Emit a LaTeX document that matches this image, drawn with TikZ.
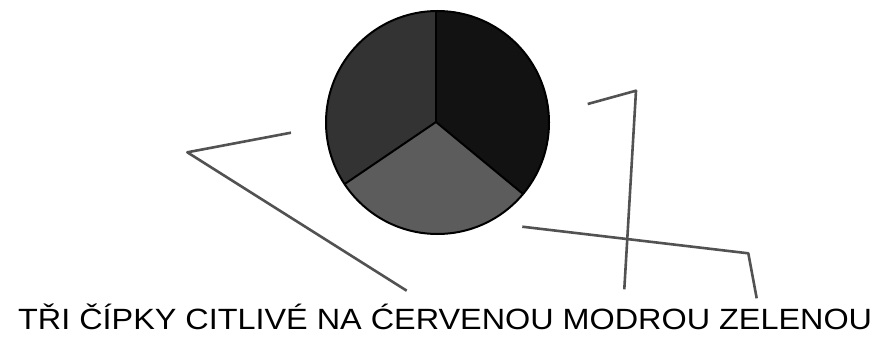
\documentclass[tikz,border=0pt]{standalone}
\usepackage{fontspec}
\setmainfont{Liberation Sans}

\begin{document}
\begin{tikzpicture}[x=1pt,y=-1pt]
    \useasboundingbox (0,0) rectangle (877,337);
    \tikzset{pointer/.style={draw=black!68,line width=2.6pt,line join=round}}
    % pie
    \coordinate (mid) at (436,122);
    \coordinate (top) at (436,0);
    \coordinate (lowl) at (330,194);
    \coordinate (lowr) at (540,208);
    \begin{scope}
      \clip (437.5,122.5) circle (111.5);
      \fill[black!80] (mid) -- (lowl) -- (300,260) -- (300,0) -- (top) -- cycle;
      \fill[black!93] (mid) -- (top) -- (580,0) -- (580,260) -- (lowr) -- cycle;
      \fill[black!64] (mid) -- (lowr) -- (580,260) -- (300,260) -- (lowl) -- cycle;
      \draw[line width=2pt] (mid) -- (top);
      \draw[line width=2pt] (mid) -- (lowl);
      \draw[line width=2pt] (mid) -- (lowr);
    \end{scope}
    \draw[line width=2pt] (437.5,122.5) circle (111.5);
    % pointer lines
    \coordinate (la) at (291,132.7);
    \coordinate (lb) at (187.3,152.3);
    \coordinate (lc) at (406.7,290.7);
    \coordinate (ra) at (587.7,104);
    \coordinate (rb) at (636,90.7);
    \coordinate (rc) at (624.3,289.3);
    \coordinate (sa) at (522.3,226.7);
    \coordinate (sb) at (748.3,253.3);
    \coordinate (sc) at (756.7,298.3);
    \draw[pointer] (la) -- (lb) -- (lc);
    \draw[pointer] (ra) -- (rb) -- (rc);
    \draw[pointer] (sa) -- (sb) -- (sc);
    % caption
    \node[anchor=base west,inner sep=0pt] (caption) at (18,329)
      {\fontsize{29.3}{30}\selectfont\scalebox{1.105}[1]{TŘI ČÍPKY CITLIVÉ NA ĆERVENOU MODROU ZELENOU}};
  \end{tikzpicture}
\end{document}
